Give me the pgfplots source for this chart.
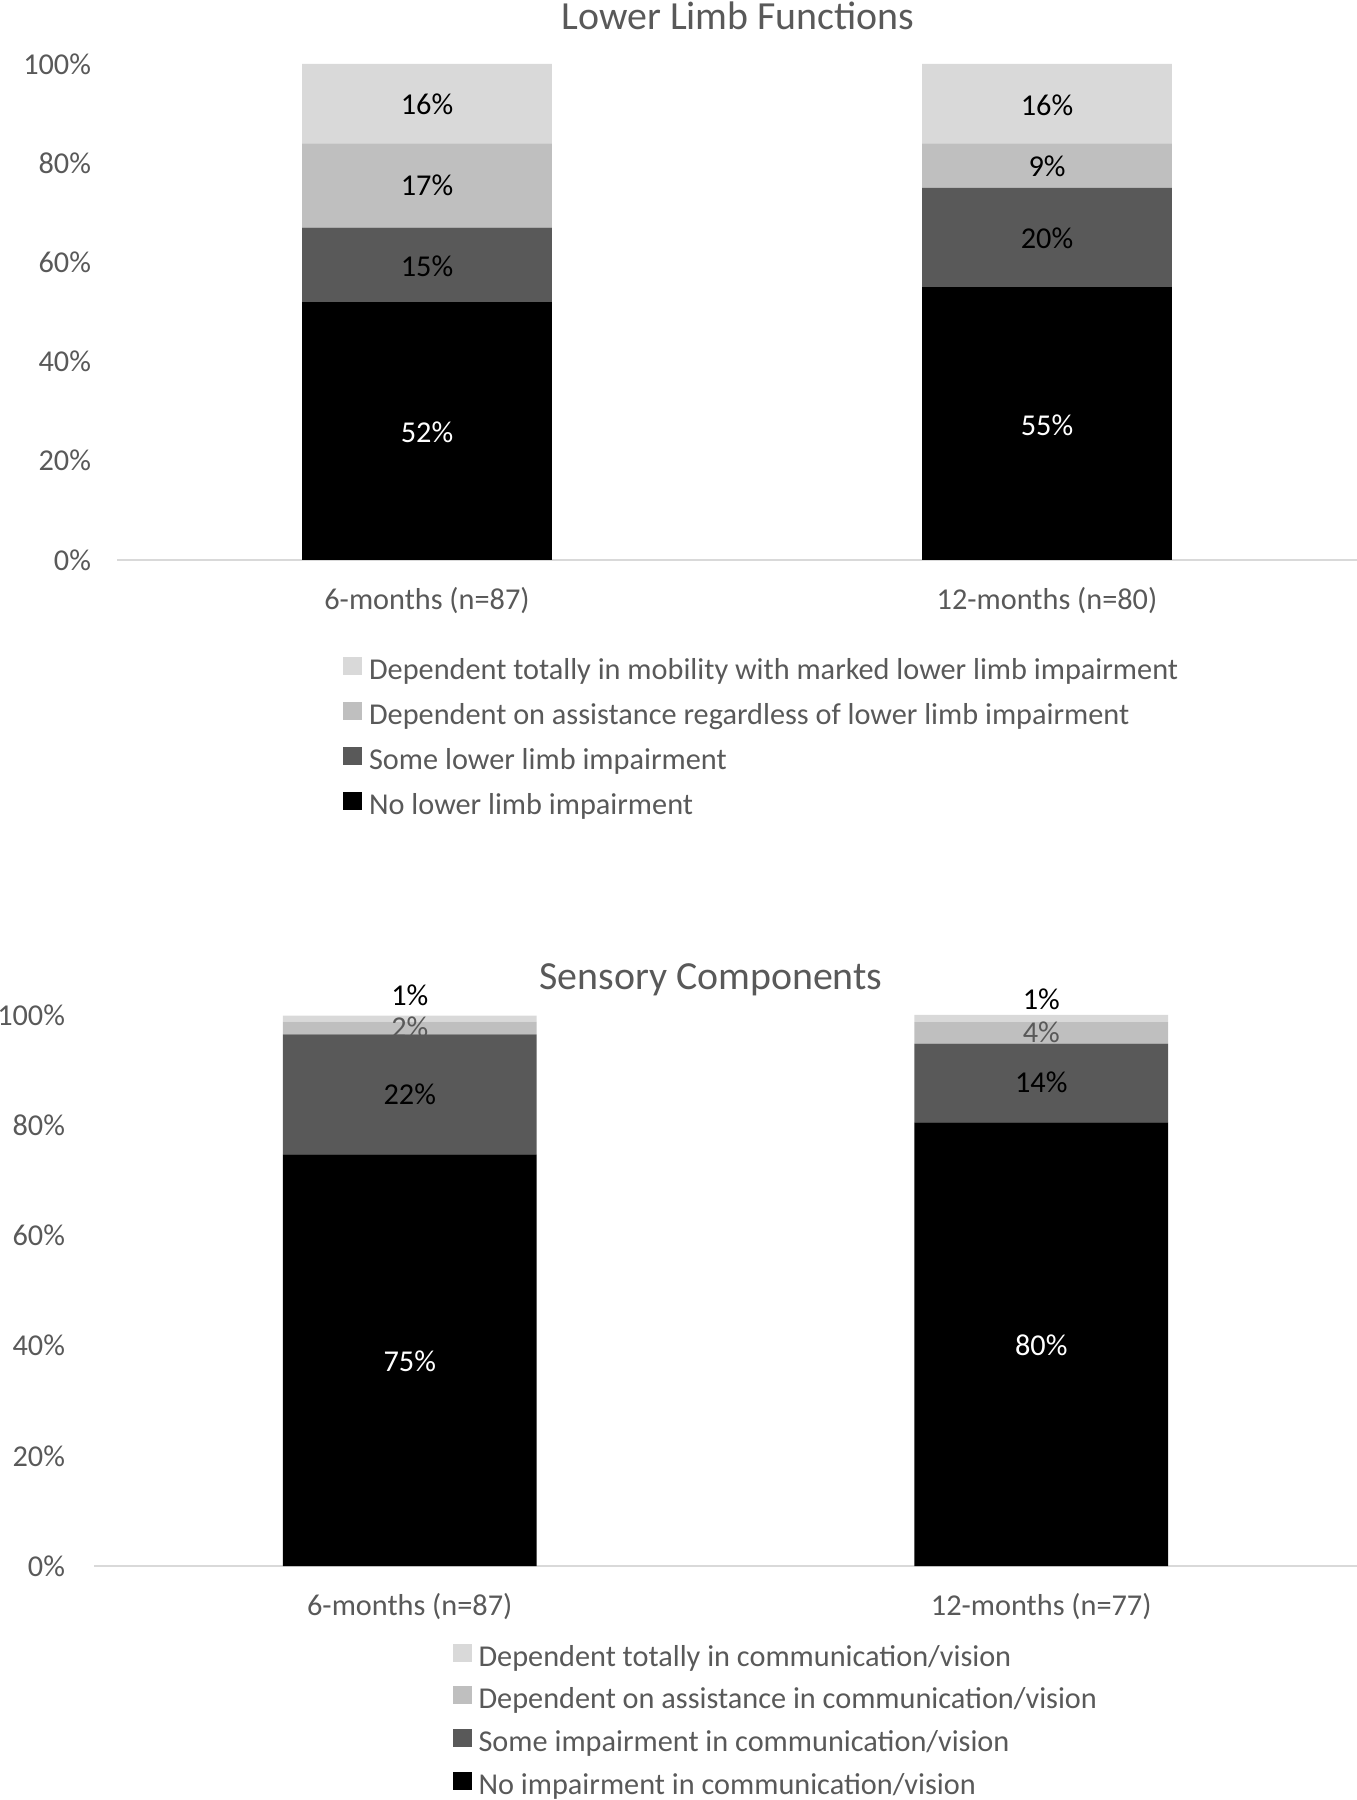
\documentclass[border=0pt]{standalone}
\usepackage{fontspec}
\setmainfont{Carlito}
\usepackage{pgfplots}
\pgfplotsset{compat=1.18}
\definecolor{cLight}{HTML}{D9D9D9}
\definecolor{cMed}{HTML}{BFBFBF}
\definecolor{cDark}{HTML}{595959}
\definecolor{txt}{HTML}{595959}

\pgfplotsset{
  stackbar/.style={
    scale only axis, anchor=south west,
    ybar stacked,
    xmin=-0.5, xmax=1.5, ymin=0, ymax=100,
    axis line style={draw=none}, major tick length=0pt,
    xtick={0,1},
    ytick={0,20,40,60,80,100},
    yticklabel={\pgfmathprintnumber{\tick}\%},
    /pgf/number format/assume math mode=true,
    tick label style={font=\fontsize{15.2}{18}\selectfont, text=txt},
    xticklabel style={yshift=-10bp},
    clip=false,
    reverse legend,
    legend cell align=left,
    legend style={draw=none, fill=none, anchor=north west, inner sep=0pt,
      font=\fontsize{15.2}{18}\selectfont, text=txt,
      nodes={inner sep=0pt, text height=11bp, text depth=3.5bp},
      column sep=3.5bp},
  },
}

\begin{document}
\begin{tikzpicture}
\useasboundingbox (0,0) rectangle (678.5bp,900bp);

% upper chart
\begin{axis}[stackbar,
  at={(58.5bp,620bp)}, width=620bp, height=248bp,
  bar width=0.403,
  yticklabel style={xshift=-9.5bp},
  xticklabels={6-months (n=87), 12-months (n=80)},
  legend style={at={(0.182,-0.195)}, row sep=7.75bp},
  legend image code/.code={\fill[#1] (0bp,-1.5bp) rectangle (9.5bp,7.5bp);},
]
\addplot[fill=black, draw=none] coordinates {(0,52) (1,55)};
\addplot[fill=cDark, draw=none] coordinates {(0,15) (1,20)};
\addplot[fill=cMed, draw=none] coordinates {(0,17) (1,9)};
\addplot[fill=cLight, draw=none] coordinates {(0,16) (1,16)};
\legend{No lower limb impairment, Some lower limb impairment,
  Dependent on assistance regardless of lower limb impairment,
  Dependent totally in mobility with marked lower limb impairment}
\draw[cLight, line width=1bp] (rel axis cs:0,0) -- (rel axis cs:1,0);
\coordinate (u1) at (axis cs:0,25.7);
\coordinate (u2) at (axis cs:0,59.3);
\coordinate (u3) at (axis cs:0,75.5);
\coordinate (u4) at (axis cs:0,91.9);
\coordinate (v1) at (axis cs:1,27.1);
\coordinate (v2) at (axis cs:1,64.8);
\coordinate (v3) at (axis cs:1,79.4);
\coordinate (v4) at (axis cs:1,91.7);
\end{axis}
\begin{scope}[every node/.style={font=\fontsize{15.2}{18}\selectfont}]
\node[white] at (u1) {52\%};
\node at (u2) {15\%};
\node at (u3) {17\%};
\node at (u4) {16\%};
\node[white] at (v1) {55\%};
\node at (v2) {20\%};
\node at (v3) {9\%};
\node at (v4) {16\%};
\end{scope}

% lower chart
\begin{axis}[stackbar,
  at={(47bp,117bp)}, width=631.5bp, height=275.5bp,
  bar width=0.402,
  yticklabel style={xshift=-11bp},
  xticklabels={6-months (n=87), 12-months (n=77)},
  legend style={at={(0.2836,-0.140)}, row sep=6.65bp},
  legend image code/.code={\fill[#1] (0bp,-1.5bp) rectangle (9.5bp,7.5bp);},
]
\addplot[fill=black, draw=none] coordinates {(0,74.7) (1,80.5)};
\addplot[fill=cDark, draw=none] coordinates {(0,21.8) (1,14.3)};
\addplot[fill=cMed, draw=none] coordinates {(0,2.3) (1,3.9)};
\addplot[fill=cLight, draw=none] coordinates {(0,1.1) (1,1.3)};
\legend{No impairment in communication/vision, Some impairment in communication/vision,
  Dependent on assistance in communication/vision,
  Dependent totally in communication/vision}
\draw[cLight, line width=1bp] (rel axis cs:0,0) -- (rel axis cs:1,0);
\coordinate (p1) at (axis cs:0,37.1);
\coordinate (p2) at (axis cs:0,85.6);
\coordinate (p3) at (axis cs:0,97.8);
\coordinate (p4) at (axis cs:0,103.5);
\coordinate (q1) at (axis cs:1,40);
\coordinate (q2) at (axis cs:1,87.7);
\coordinate (q3) at (axis cs:1,96.9);
\coordinate (q4) at (axis cs:1,102.9);
\end{axis}
\begin{scope}[every node/.style={font=\fontsize{15.2}{18}\selectfont}]
\node[white] at (p1) {75\%};
\node at (p2) {22\%};
\node[text=txt] at (p3) {2\%};
\node at (p4) {1\%};
\node[white] at (q1) {80\%};
\node at (q2) {14\%};
\node[text=txt] at (q3) {4\%};
\node at (q4) {1\%};
\end{scope}

\node[text=txt, font=\fontsize{20}{24}\selectfont] at (369bp,892bp) {Lower Limb Functions};
\node[text=txt, font=\fontsize{20}{24}\selectfont] at (355.5bp,410.3bp) {Sensory Components};
\end{tikzpicture}
\end{document}
